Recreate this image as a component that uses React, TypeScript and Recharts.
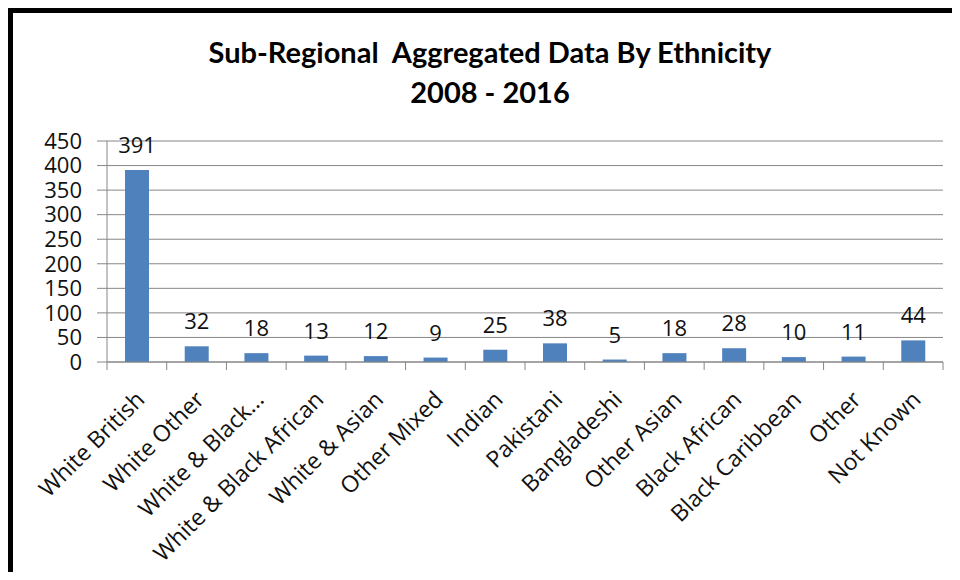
import { BarChart, Bar, XAxis, YAxis, CartesianGrid, LabelList } from 'recharts';

const categories = [
  'White British',
  'White Other',
  'White & Black...',
  'White & Black African',
  'White & Asian',
  'Other Mixed',
  'Indian',
  'Pakistani',
  'Bangladeshi',
  'Other Asian',
  'Black African',
  'Black Caribbean',
  'Other',
  'Not Known',
];

const counts = [391, 32, 18, 13, 12, 9, 25, 38, 5, 18, 28, 10, 11, 44];

const yTicks = [0, 50, 100, 150, 200, 250, 300, 350, 400, 450];

const data = categories.map((name, i) => ({ name, count: counts[i] }));

const font = '"Open Sans", "Noto Sans", sans-serif';
const axisGrey = '#868686';

function CategoryTick(props: any) {
  const { x, y, payload, index, visibleTicksCount } = props;
  const half = payload?.offset ?? 30;
  const tx = x + 9;
  const ty = y + 39;
  return (
    <g>
      <line x1={x - half} x2={x - half} y1={y} y2={y + 8} stroke={axisGrey} />
      {index === visibleTicksCount - 1 && (
        <line x1={x + half} x2={x + half} y1={y} y2={y + 8} stroke={axisGrey} />
      )}
      <text
        x={tx}
        y={ty}
        transform={`rotate(-45, ${tx}, ${ty})`}
        textAnchor="end"
        fontFamily={font}
        fontSize={23}
        fill="#111"
      >
        {payload.value}
      </text>
    </g>
  );
}

export default function App() {
  return (
    <div
      style={{
        position: 'relative',
        boxSizing: 'border-box',
        width: 952,
        height: 564,
        borderLeft: '5px solid #000',
        borderTop: '5px solid #000',
        background: '#fff',
      }}
    >
      <div
        style={{
          position: 'absolute',
          left: 0,
          top: 19,
          width: 954,
          textAlign: 'center',
          fontFamily: '"Lato", sans-serif',
          fontWeight: 700,
          fontSize: 29,
          lineHeight: '40px',
          color: '#000',
          whiteSpace: 'pre',
        }}
      >
        {'Sub-Regional  Aggregated Data By Ethnicity\n2008 - 2016'}
      </div>
      <BarChart
        width={947}
        height={559}
        data={data}
        margin={{ top: 128, right: 17, left: 0, bottom: 0 }}
        barSize={24}
      >
        <CartesianGrid vertical={false} stroke={axisGrey} />
        <XAxis
          dataKey="name"
          interval={0}
          height={210}
          tickSize={0}
          tickMargin={0}
          tickLine={false}
          stroke={axisGrey}
          tick={<CategoryTick />}
        />
        <YAxis
          domain={[0, 450]}
          ticks={yTicks}
          interval={0}
          width={94}
          tickSize={10}
          tickMargin={15}
          stroke={axisGrey}
          tick={{ fill: '#111', fontSize: 22, fontFamily: font }}
        />
        <Bar dataKey="count" fill="#4F81BD" isAnimationActive={false}>
          <LabelList
            dataKey="count"
            position="top"
            offset={17}
            fill="#111"
            fontSize={22}
            fontFamily={font}
          />
        </Bar>
      </BarChart>
    </div>
  );
}
